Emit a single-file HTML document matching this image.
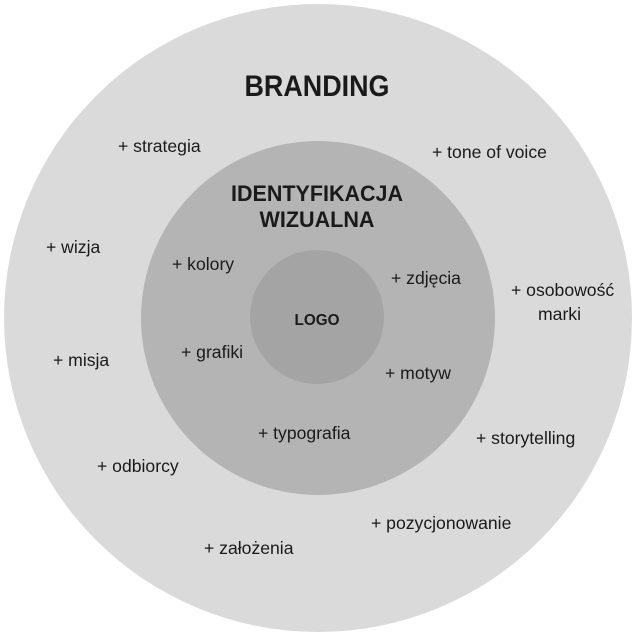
<!DOCTYPE html>
<html><head><style>body{margin:0;background:#fff}svg{display:block}text{font-family:"Liberation Sans",sans-serif;fill:#1a1a1a}</style></head>
<body>
<svg width="637" height="632" viewBox="0 0 637 632">
<circle cx="318" cy="318" r="314" fill="#dadada"/>
<circle cx="318" cy="318" r="177" fill="#b4b4b4"/>
<circle cx="317" cy="317" r="67" fill="#a4a4a4"/>
<g font-size="30" font-weight="bold"><text x="317" y="96" text-anchor="middle" textLength="145" lengthAdjust="spacingAndGlyphs">BRANDING</text></g>
<g font-size="22" font-weight="bold" text-anchor="middle">
<text x="317" y="201" textLength="172" lengthAdjust="spacingAndGlyphs">IDENTYFIKACJA</text>
<text x="317" y="227" textLength="115" lengthAdjust="spacingAndGlyphs">WIZUALNA</text>
</g>
<text x="317" y="325" font-size="16" font-weight="bold" text-anchor="middle" textLength="45" lengthAdjust="spacingAndGlyphs">LOGO</text>
<g font-size="17.6">
<text x="118" y="152">+ strategia</text>
<text x="432" y="158">+ tone of voice</text>
<text x="46" y="253">+ wizja</text>
<text x="511" y="296">+ osobowość</text>
<text x="538" y="320">marki</text>
<text x="53" y="366">+ misja</text>
<text x="476" y="444">+ storytelling</text>
<text x="97" y="472">+ odbiorcy</text>
<text x="371" y="529">+ pozycjonowanie</text>
<text x="204" y="554">+ założenia</text>
<text x="172" y="270">+ kolory</text>
<text x="391" y="284">+ zdjęcia</text>
<text x="181" y="358">+ grafiki</text>
<text x="385" y="379">+ motyw</text>
<text x="258" y="439">+ typografia</text>
</g>
</svg>
</body></html>
